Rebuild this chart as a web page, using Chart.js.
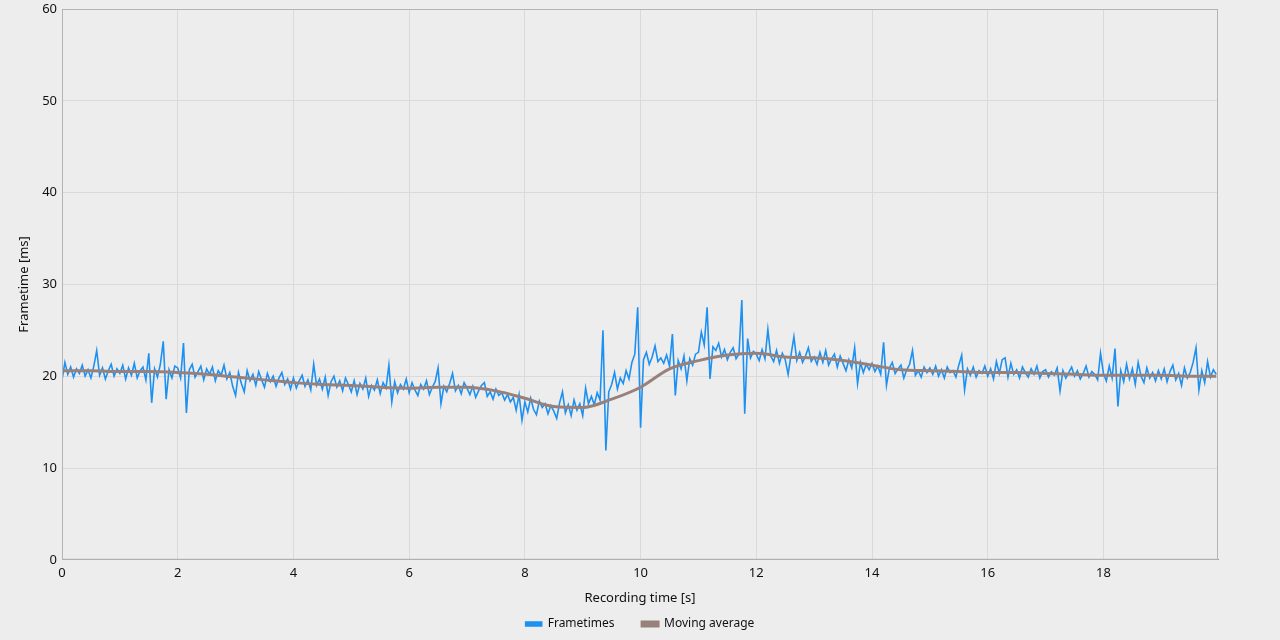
<!DOCTYPE html>
<html>
<head>
<meta charset="utf-8">
<title>Frametimes</title>
<script src="https://cdn.jsdelivr.net/npm/chart.js@4/dist/chart.umd.min.js"></script>
<style>
  html, body { margin: 0; padding: 0; background: #ededed; }
  canvas { display: block; }
</style>
</head>
<body>
<canvas id="myChart" width="1280" height="640"></canvas>
<script>
// frametimes in ms, one sample every 0.05 s (one row per second)
const frameStep = 0.05
const frametimes = [
  19.6, 21.5, 20.2, 21.0, 19.9, 20.8, 20.3, 21.2, 20.0, 20.7, 19.8, 21.1, 22.8, 20.1, 20.9, 19.7, 20.6, 21.3, 20.0, 20.8,
  20.3, 21.2, 19.7, 20.9, 20.1, 21.4, 19.8, 20.6, 21.0, 19.6, 22.5, 17.1, 20.8, 19.9, 21.3, 23.8, 17.5, 20.7, 19.8, 21.1,
  20.9, 19.8, 23.6, 16.0, 20.7, 21.3, 19.9, 20.5, 21.1, 19.6, 20.8, 20.2, 21.0, 19.5, 20.6, 20.1, 21.2, 19.7, 20.4, 18.9,
  17.9, 20.4, 19.2, 18.3, 20.6, 19.5, 20.2, 19.0, 20.5, 19.6, 18.8, 20.3, 19.4, 20.0, 18.9, 19.8, 20.4, 19.1, 19.7, 18.6,
  19.8, 18.7, 19.5, 20.1, 18.9, 19.6, 18.5, 21.3, 19.0, 19.7, 18.6, 19.9, 17.9, 19.4, 20.0, 18.8, 19.5, 18.4, 19.8, 19.1,
  18.3, 19.5, 18.0, 19.2, 18.6, 19.8, 17.8, 19.0, 18.5, 19.6, 18.1, 19.3, 18.7, 21.2, 17.2, 19.4, 18.2, 19.1, 18.6, 19.7,
  18.2, 19.3, 18.5, 17.9, 19.1, 18.6, 19.5, 18.0, 18.8, 19.4, 20.9, 17.0, 18.9, 18.3, 19.2, 20.3, 18.4, 19.0, 18.1, 19.3,
  18.7, 18.0, 18.9, 17.7, 18.4, 19.0, 19.3, 17.8, 18.3, 17.5, 18.6, 17.9, 18.2, 17.4, 18.0, 17.2, 17.7, 16.3, 18.0, 15.2,
  17.2, 16.1, 17.6, 16.4, 15.8, 17.3, 16.6, 17.0, 15.9, 16.8, 16.2, 15.4, 17.1, 18.3, 16.0, 16.9, 15.7, 17.4, 16.3, 17.0,
  15.7, 18.7, 17.0, 17.8, 16.9, 18.2, 17.4, 25.0, 11.9, 18.3, 19.1, 20.4, 18.6, 19.8, 19.2, 20.6, 19.7, 21.5, 22.4, 27.5,
  14.4, 21.8, 22.6, 21.3, 22.1, 23.3, 21.6, 22.0, 21.4, 22.3, 21.1, 24.6, 17.9, 21.7, 20.8, 22.2, 19.5, 21.9, 21.2, 22.4,
  22.6, 24.8, 23.4, 27.5, 19.7, 23.2, 22.8, 23.6, 22.1, 22.9, 21.8, 22.6, 23.1, 21.9, 22.4, 28.3, 15.9, 24.1, 22.0, 22.7,
  22.4, 21.7, 22.9, 21.9, 25.1, 22.2, 21.6, 22.8, 21.4, 22.5, 21.8, 20.2, 22.3, 24.3, 21.7, 22.6, 21.5, 22.2, 23.1, 21.6,
  22.1, 21.3, 22.6, 21.5, 22.8, 21.2, 21.9, 22.4, 21.0, 22.2, 21.4, 20.6, 21.8, 20.9, 23.1, 19.2, 21.5, 20.4, 21.3, 20.7,
  21.4, 20.5, 21.1, 20.2, 23.7, 19.0, 20.9, 21.5, 20.3, 20.8, 21.2, 19.8, 20.7, 21.3, 22.8, 20.1, 20.6, 19.9, 21.0, 20.4,
  20.9, 20.2, 21.1, 20.0, 20.7, 19.8, 21.0, 20.4, 20.6, 19.9, 21.2, 22.3, 18.5, 20.8, 20.1, 21.0, 19.9, 20.6, 20.3, 21.1,
  20.0, 20.8, 19.7, 21.6, 20.3, 21.8, 22.0, 19.9, 21.4, 20.2, 20.7, 19.8, 21.0, 20.4, 19.9, 20.8, 20.2, 21.1, 19.8, 20.5,
  20.7, 19.9, 20.5, 20.1, 20.9, 18.4, 20.6, 19.8, 20.4, 21.0, 20.0, 20.6, 19.7, 20.3, 21.1, 19.9, 20.5, 20.2, 19.6, 22.5,
  20.3, 19.5, 21.1, 19.8, 23.0, 16.7, 20.6, 19.4, 21.3, 19.7, 20.8, 19.1, 21.5, 20.0, 19.3, 20.9, 19.8, 20.4, 19.5, 20.6,
  19.7, 20.8, 19.4, 20.5, 21.2, 19.6, 20.3, 19.0, 20.9, 19.8, 20.4, 21.5, 23.1, 18.5, 20.6, 19.3, 21.6, 19.9, 20.7, 20.2
]

// moving average, read every half second
const avgTimes = [0, 0.5, 1, 1.5, 2, 2.5, 3, 3.5, 4, 4.5, 5, 5.5, 6, 6.5, 7, 7.5, 8, 8.5, 9, 9.5,
  10, 10.5, 11, 11.5, 12, 12.5, 13, 13.5, 14, 14.5, 15, 15.5, 16, 16.5, 17, 17.5, 18, 18.5, 19, 19.5, 19.95]
const avgValues = [20.6, 20.6, 20.5, 20.5, 20.4, 20.2, 19.9, 19.6, 19.3, 19.1, 19.0, 18.8, 18.7, 18.8, 18.8, 18.4, 17.6, 16.7, 16.6, 17.5,
  18.8, 20.8, 21.7, 22.3, 22.5, 22.1, 22.0, 21.7, 21.2, 20.7, 20.6, 20.5, 20.4, 20.4, 20.3, 20.2, 20.1, 20.1, 20.1, 20.0, 20.0]

const yTicks = [0, 10, 20, 30, 40, 50, 60]
const xTicks = [0, 2, 4, 6, 8, 10, 12, 14, 16, 18]

const fontFamily = '"Noto Sans", "Open Sans", sans-serif'

// gray frame around the plot area
const frameBox = {
    id: 'frameBox',
    afterDraw(chart) {
        const { ctx, chartArea } = chart
        ctx.save()
        ctx.strokeStyle = '#b4b4b4'
        ctx.lineWidth = 1
        ctx.strokeRect(chartArea.left + 0.5, chartArea.top + 0.5, chartArea.width - 1, chartArea.height - 1)
        ctx.restore()
    }
}

const data = {
    datasets: [{
        label: 'Frametimes',
        data: frametimes.map((y, i) => ({ x: i * frameStep, y: y })),
        borderColor: '#1e90f0',
        backgroundColor: '#1e90f0',
        borderWidth: 1.6,
        pointRadius: 0,
        order: 1
    }, {
        label: 'Moving average',
        data: avgTimes.map((x, i) => ({ x: x, y: avgValues[i] })),
        borderColor: '#98817a',
        backgroundColor: '#98817a',
        borderWidth: 3,
        pointRadius: 0,
        cubicInterpolationMode: 'monotone',
        order: 0
    }]
}

const config = {
    type: 'line',
    data: data,
    plugins: [frameBox],
    options: {
        responsive: false,
        animation: false,
        layout: { padding: { top: 9, right: 0, left: 0, bottom: 0 } },
        plugins: {
            tooltip: { enabled: false },
            legend: {
                position: 'bottom',
                labels: {
                    boxWidth: 16,
                    boxHeight: 4,
                    color: '#111',
                    padding: 12,
                    font: { family: fontFamily, size: 12 },
                    sort: (a, b) => a.datasetIndex - b.datasetIndex,
                    // wider gap between the two entries
                    generateLabels: (chart) => {
                        const items = Chart.defaults.plugins.legend.labels.generateLabels(chart)
                        items.forEach(item => { if (item.datasetIndex === 0) item.text = item.text + '     ' })
                        return items
                    }
                }
            }
        },
        scales: {
            x: {
                type: 'linear',
                min: 0,
                max: 19.98,
                afterBuildTicks: (scale) => { scale.ticks = xTicks.map(v => ({ value: v })) },
                ticks: { color: '#111', padding: 6, maxRotation: 0, font: { family: fontFamily, size: 13 } },
                grid: { color: '#dadada', drawTicks: false },
                border: { color: '#a0a0a0' },
                title: { display: true, text: 'Recording time [s]', color: '#111', padding: { top: 3, bottom: 0 }, font: { family: fontFamily, size: 13 } }
            },
            y: {
                min: 0,
                max: 60,
                afterBuildTicks: (scale) => { scale.ticks = yTicks.map(v => ({ value: v })) },
                afterFit: (scale) => { scale.width = 62; scale.paddingTop = 0 },
                ticks: { color: '#111', padding: 5, font: { family: fontFamily, size: 13 } },
                grid: { color: '#dadada', drawTicks: false },
                border: { color: '#a0a0a0' },
                title: { display: true, text: 'Frametime [ms]', color: '#111', padding: { top: 16, bottom: 0 }, font: { family: fontFamily, size: 13 } }
            },
            // empty right-hand axis, only reserves the right margin
            yRight: {
                position: 'right',
                min: 0,
                max: 60,
                afterFit: (scale) => { scale.width = 62; scale.paddingTop = 0 },
                ticks: { display: false },
                grid: { display: false, drawTicks: false },
                border: { display: false }
            }
        }
    }
}

const myChart = new Chart(document.getElementById('myChart'), config)
</script>
</body>
</html>
